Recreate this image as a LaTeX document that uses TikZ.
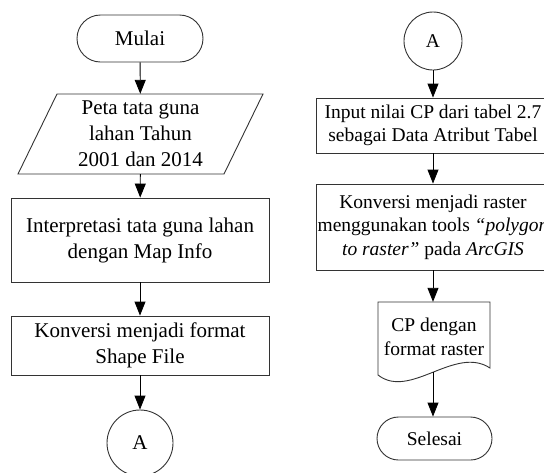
\documentclass[tikz,border=0pt]{standalone}
\usepackage{fontspec}
\setmainfont{Liberation Serif}
\usetikzlibrary{arrows.meta,shapes.misc}
\begin{document}
\begin{tikzpicture}[x=1pt,y=-1pt,
  every node/.style={font=\fontsize{19.5}{23.5}\selectfont, text=black, align=center, inner sep=0pt},
  leftfont/.style={font=\fontsize{21}{26}\selectfont},
  line/.style={draw=black!80, line width=0.9pt},
  procbox/.style={line, fill=white, rectangle, minimum width=234pt},
  termbox/.style={line, fill=white, rounded rectangle},
  conn/.style={line, circle, fill=white},
  flow/.style={draw=black, line width=0.9pt, -{Triangle[length=14pt,width=11pt]}}]
\useasboundingbox (0,0) rectangle (544,472);
\fill[white] (0,0) rectangle (544,472);
% left column
\node[termbox, leftfont, minimum width=126pt, minimum height=47pt] (mulai) at (140,38.5) {Mulai};
\draw[line, fill=white] (57,94) -- (263,94) -- (224,174) -- (18,174) -- cycle;
\node[leftfont, minimum width=160pt, minimum height=80pt] (peta) at (140.5,134) {Peta tata guna\\lahan Tahun\\2001 dan 2014};
\node[procbox, leftfont, minimum width=258pt, minimum height=84pt] (interp) at (140,240) {Interpretasi tata guna lahan\\dengan Map Info};
\node[procbox, leftfont, minimum width=258pt, minimum height=59pt] (konv) at (140,345.5) {Konversi menjadi format\\Shape File};
\node[conn, leftfont, minimum size=66pt] (a1) at (140,443) {A};
% right column
\node[conn, minimum size=58pt] (a2) at (433,41) {A};
\node[procbox, minimum height=55pt] (input) at (433,125.5) {Input nilai CP dari tabel 2.7\\sebagai Data Atribut Tabel};
\node[procbox, minimum height=86pt] (konv2) at (433,227) {Konversi menjadi raster\\menggunakan tools \textit{“polygon}\\\textit{to raster”} pada \textit{ArcGIS}};
\draw[line, fill=white] (378,302) -- (490,302) -- (490,368) .. controls (455,345) and (410,400) .. (378,375) -- cycle;
\node[minimum width=112pt, minimum height=70pt] (doc) at (434,337) {CP dengan\\format raster};
\node[termbox, minimum width=115pt, minimum height=43pt] (selesai) at (434.5,438.5) {Selesai};
% connectors
\draw[flow] (mulai) -- (peta);
\draw[flow] (peta) -- (interp);
\draw[flow] (interp) -- (konv);
\draw[flow] (konv) -- (a1);
\draw[flow] (a2) -- (input);
\draw[flow] (input) -- (konv2);
\draw[flow] (konv2.south) -- (doc.north -| konv2.south);
\draw[flow] (doc.south -| konv2.south) -- (selesai.north -| konv2.south);
\end{tikzpicture}
\end{document}
